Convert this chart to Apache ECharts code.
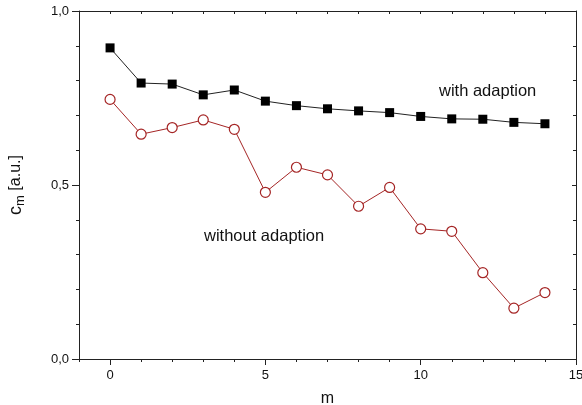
<!DOCTYPE html>
<html>
<head>
<meta charset="utf-8">
<script src="https://cdn.jsdelivr.net/npm/echarts@6/dist/echarts.min.js"></script>
<style>html,body{margin:0;padding:0;background:#fff;}#c{width:582px;height:405px;}</style>
</head>
<body>
<div id="c"></div>
<script>
var mValues = [0,1,2,3,4,5,6,7,8,9,10,11,12,13,14];
var withAdaption = [0.894,0.793,0.790,0.759,0.773,0.741,0.728,0.719,0.713,0.708,0.697,0.690,0.689,0.680,0.676];
var withoutAdaption = [0.746,0.646,0.665,0.687,0.660,0.479,0.551,0.529,0.439,0.493,0.374,0.367,0.248,0.146,0.191];
var xMajorTicks = [0,5,10,15];
var xMinorTicks = [-1,0,1,2,3,4,5,6,7,8,9,10,11,12,13,14,15];

var axisColor = '#222';
var font = 'Liberation Sans, Arial, sans-serif';
function pairs(xs, ys){ return xs.map(function(x,i){return [x, ys[i]];}); }
function yFmt(v){ return v.toFixed(1).replace('.', ','); }

var chart = echarts.init(document.getElementById('c'), null, {renderer:'canvas'});
var baseX = {type:'value', min:-1, max:15, splitLine:{show:false},
  axisLine:{show:true, onZero:false, lineStyle:{color:axisColor, width:1}}};
var baseY = {type:'value', min:0, max:1, interval:0.5, splitLine:{show:false},
  axisLine:{show:true, onZero:false, lineStyle:{color:axisColor, width:1}}};
chart.setOption({
  animation:false,
  backgroundColor:'#fff',
  grid:{left:79, right:6, top:11, bottom:46, containLabel:false, outerBoundsMode:'none'},
  xAxis:[
    Object.assign({}, baseX, {position:'bottom',
      name:'m', nameLocation:'middle', nameGap:32,
      nameTextStyle:{fontFamily:font, fontSize:16, color:'#111'},
      axisTick:{show:true, length:6, customValues:xMajorTicks, lineStyle:{color:axisColor}},
      axisLabel:{show:true, customValues:xMajorTicks, margin:10, fontFamily:font, fontSize:13, color:'#111'}}),
    Object.assign({}, baseX, {position:'bottom',
      axisTick:{show:true, length:3, customValues:xMinorTicks, lineStyle:{color:axisColor}},
      axisLabel:{show:false}}),
    Object.assign({}, baseX, {position:'top',
      axisTick:{show:true, inside:true, length:3, customValues:xMinorTicks, lineStyle:{color:axisColor}},
      axisLabel:{show:false}})
  ],
  yAxis:[
    Object.assign({}, baseY, {position:'left',
      axisTick:{show:true, length:7, lineStyle:{color:axisColor}},
      minorTick:{show:true, splitNumber:5, length:3, lineStyle:{color:axisColor}},
      axisLabel:{formatter:yFmt, margin:10, fontFamily:font, fontSize:13, color:'#111'},
      name:'{c|c}{s|m}{u| [a.u.]}', nameLocation:'middle', nameGap:52, nameRotate:90,
      nameTextStyle:{fontFamily:font, color:'#111', rich:{
        c:{fontSize:18, fontFamily:font, color:'#111'},
        s:{fontSize:13, fontFamily:font, color:'#111', padding:[9,0,0,0]},
        u:{fontSize:16, fontFamily:font, color:'#111'}}}}),
    Object.assign({}, baseY, {position:'right',
      axisTick:{show:true, inside:true, length:4, lineStyle:{color:axisColor}},
      minorTick:{show:true, splitNumber:5, length:3, lineStyle:{color:axisColor}},
      axisLabel:{show:false}})
  ],
  series:[
    {type:'line', name:'with adaption', xAxisIndex:0, yAxisIndex:0,
      data:pairs(mValues, withAdaption),
      symbol:'rect', symbolSize:9,
      lineStyle:{color:'#222', width:1},
      itemStyle:{color:'#000', borderWidth:0}},
    {type:'line', name:'without adaption', xAxisIndex:0, yAxisIndex:0,
      data:pairs(mValues, withoutAdaption),
      symbol:'circle', symbolSize:10, showAllSymbol:true,
      lineStyle:{color:'#a52525', width:1},
      itemStyle:{color:'#fff', borderColor:'#a52525', borderWidth:1.2}}
  ],
  graphic:[
    {type:'text', x:439, y:91, style:{text:'with adaption', font:'16.5px Liberation Sans, Arial, sans-serif', fill:'#111', verticalAlign:'middle'}},
    {type:'text', x:204, y:236, style:{text:'without adaption', font:'16.5px Liberation Sans, Arial, sans-serif', fill:'#111', verticalAlign:'middle'}}
  ]
});
</script>
</body>
</html>
